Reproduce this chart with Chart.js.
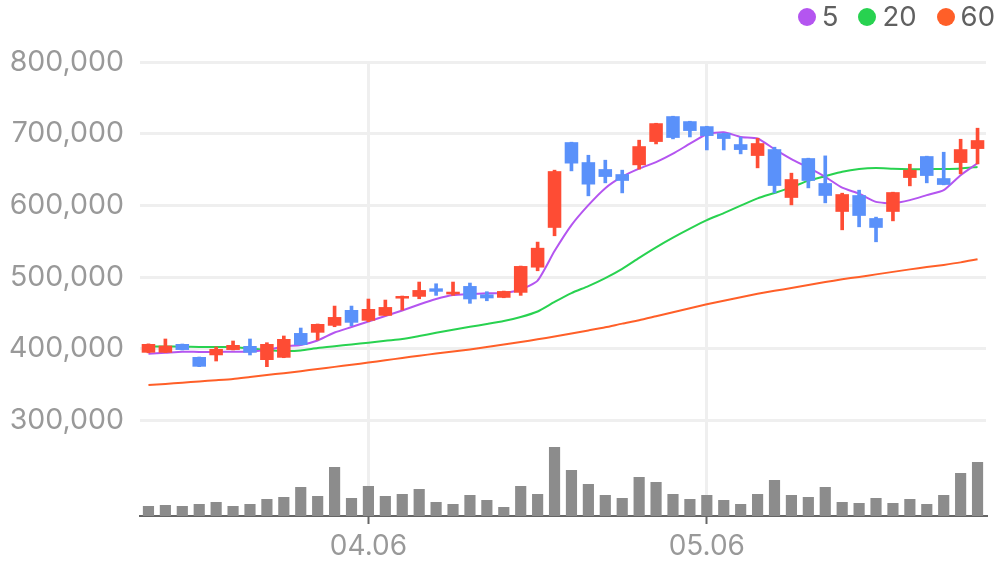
<!DOCTYPE html>
<html><head><meta charset="utf-8">
<script src="https://cdn.jsdelivr.net/npm/chart.js@4/dist/chart.umd.min.js"></script>
<style>
html,body{margin:0;padding:0;background:#fff;}
#wrap{position:relative;width:996px;height:567px;}
#legend{position:absolute;top:1px;right:1px;display:flex;align-items:center;font-family:Inter,sans-serif;font-size:27.5px;line-height:30px;color:#606060;}
.item{display:flex;align-items:center;margin-left:20px;}
.dot{width:18px;height:18px;border-radius:50%;margin-right:6px;margin-top:2px;}
</style></head>
<body><div id="wrap"><canvas id="c"></canvas><div id="legend"></div></div>
<script>
const dates = ['03.18','03.21','03.22','03.23','03.24','03.25','03.28','03.29','03.30','03.31','04.01','04.04','04.05',
  '04.06','04.07','04.08','04.11','04.12','04.13','04.14','04.15','04.18','04.19','04.20','04.21','04.22','04.25','04.26','04.27','04.28','04.29','05.02','05.04',
  '05.06','05.09','05.10','05.11','05.12','05.13','05.16','05.17','05.18','05.19','05.20','05.23','05.24','05.25','05.26','05.27','05.30'];
const axisDates = ['04.06','05.06'];
const priceTicks = [300000,400000,500000,600000,700000,800000];

const open  = [394700,394700,406800,388700,391100,398500,404000,384500,387700,422100,422600,432300,454200,439300,446200,470200,472700,484400,476000,487600,476000,471300,478300,513400,568800,
               688200,660300,650600,643600,656100,688600,724400,717400,710400,700700,685400,669100,678400,610600,665900,631100,591100,614300,582300,591100,638400,668700,638000,659300,678800];
const high  = [407000,413800,406800,388700,402600,411000,413800,408600,418000,429100,434700,459700,459700,469500,468100,473700,493200,490800,493200,491800,479700,480600,515500,548900,649200,
               688200,670000,663100,649200,691000,714600,724400,717400,710400,700700,695100,693700,681200,645000,665900,669100,617100,621300,583700,618500,657500,668700,674200,692300,707700];
const low   = [394500,394700,398500,375200,383100,398500,391500,375200,387700,405400,412400,430900,432300,437900,446200,454200,469900,474600,474600,463500,467100,471300,474600,508900,557700,
               648200,613400,631500,617500,650600,685800,692800,695500,677400,677400,671900,652400,617500,600800,624500,603600,566000,570200,549300,578500,627300,631500,628700,644000,657900];
const close = [406800,404500,398500,375200,399900,405400,394700,406800,413800,405400,434700,444400,436500,455600,458300,473700,482000,479700,479700,469100,470500,480600,515500,540900,647800,
               658500,629200,639800,634300,682600,714600,694200,703900,696900,692800,677400,686800,627300,636600,634300,613400,615700,585500,568800,618500,649600,641200,628700,678400,691000];
const volume = [100000,110000,100000,120000,140000,100000,120000,170000,190000,290000,200000,490000,180000,300000,200000,220000,270000,140000,120000,210000,160000,90000,300000,220000,690000,
                460000,320000,210000,180000,390000,340000,220000,170000,210000,160000,120000,220000,360000,210000,190000,290000,140000,130000,180000,130000,170000,120000,210000,430000,540000];
const ma5  = [393170,394560,396090,395670,395670,396090,396370,398460,403330,405420,411690,422830,430490,438150,445810,453470,461830,469490,475060,476460,477430,477850,482720,495260,536350,
              572560,600420,624090,640110,651250,660300,672140,686070,699300,702090,695540,693310,678410,664480,652650,639830,624790,616430,605010,603200,607380,614340,621310,642200,658910];
const ma20 = [403330,403330,403060,402640,402640,402640,400550,398460,397070,397760,401240,403750,406120,408630,411410,413780,417960,422410,426590,430770,434670,438850,444420,452080,465450,
              477850,487600,498740,511690,527010,541640,555150,567680,579520,589270,599720,609890,617410,625210,634540,640810,647070,650830,652230,651250,650560,650560,650830,651670,653760];
const ma60 = [349570,351100,352910,354590,356260,358070,360850,363640,366150,368930,372000,374920,377850,380910,384110,387320,390520,393440,396230,399160,402640,406120,409600,413360,417260,
              421580,425760,430080,435230,439960,445540,451110,456540,462110,466990,471860,476730,480910,484950,488990,493170,497070,500270,503890,507380,510860,514060,517120,520610,524920];
const maLabels = ['5','20','60'];

const UP = '#fe4c34', DOWN = '#5a91fa';
const candleColors = close.map((c,i) => c >= open[i] ? UP : DOWN);
const maColors = ['#b455f0','#28d250','#ff5f28'];
const maData = [ma5, ma20, ma60];
const FONT = 'Inter, "Noto Sans", sans-serif';

const chart = new Chart(document.getElementById('c'), {
  type: 'bar',
  data: {
    labels: dates,
    datasets: [
      { type:'bar', label:'body', data: open.map((o,i)=>[o, close[i]]), backgroundColor: candleColors,
        barPercentage:0.8, categoryPercentage:1, grouped:false, order:1, yAxisID:'y' },
      { type:'bar', label:'wick', data: low.map((l,i)=>[l, high[i]]), backgroundColor: candleColors,
        barThickness:3, grouped:false, order:2, yAxisID:'y' },
      ...maLabels.map((lab,k)=>({ type:'line', label:lab, data: maData[k], borderColor: maColors[k], backgroundColor: maColors[k],
        borderWidth:2, pointRadius:0, tension:0.2, order:3, yAxisID:'y' })),
      { type:'bar', label:'volume', data: volume, backgroundColor:'#8c8c8c', barPercentage:0.66, categoryPercentage:1,
        grouped:false, order:5, yAxisID:'yVol' }
    ]
  },
  options: {
    responsive:true, maintainAspectRatio:false, animation:false,
    layout:{ padding:{ top:62, right:10, left:0, bottom:0 } },
    plugins:{ legend:{ display:false }, tooltip:{ enabled:false } },
    scales:{
      x:{
        offset:true,
        afterBuildTicks: s => { s.ticks = s.ticks.filter(t => axisDates.includes(dates[t.value])); },
        afterFit: s => { s.height = 51; },
        grid:{ offset:false, color:'#efefef', lineWidth:3, tickColor:'#666', tickWidth:2, tickLength:8, drawOnChartArea:true },
        border:{ display:true, color:'#666', width:2 },
        ticks:{ color:'#999', font:{ family:FONT, size:28 }, padding:6, maxRotation:0, autoSkip:false }
      },
      y:{
        position:'left', min:167000, max:800000,
        afterBuildTicks: s => { s.ticks = priceTicks.map(v => ({ value:v })); },
        afterFit: s => { s.width = 140; },
        grid:{ color:'#efefef', lineWidth:3, drawTicks:false },
        border:{ display:false },
        ticks:{ color:'#999', padding:16, font:{ family:FONT, size:28.5 }, callback: v => Number(v).toLocaleString('en-US') }
      },
      yVol:{ display:false, min:0, max:4540000 }
    }
  }
});

const leg = document.getElementById('legend');
chart.data.datasets.filter(d => maLabels.includes(d.label)).forEach(d => {
  const it = document.createElement('div'); it.className = 'item';
  const dot = document.createElement('span'); dot.className = 'dot'; dot.style.background = d.borderColor;
  const tx = document.createElement('span'); tx.textContent = d.label;
  it.appendChild(dot); it.appendChild(tx); leg.appendChild(it);
});
</script>
</body></html>
